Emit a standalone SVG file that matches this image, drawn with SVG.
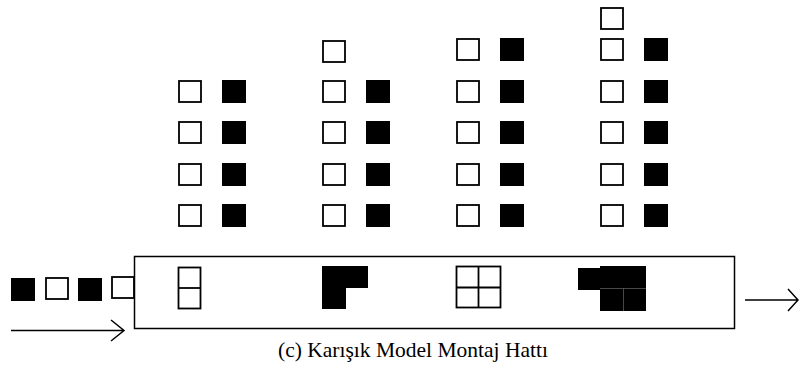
<svg xmlns="http://www.w3.org/2000/svg" width="799" height="375" viewBox="0 0 799 375">
  <style>
    .w { fill: #fff; stroke: #000; stroke-width: 1.8; }
    .b { fill: #000; stroke: none; }
    .ln { fill: none; stroke: #000; stroke-width: 1.5; }
    .seam { stroke: #777; stroke-width: 0.6; }
    .cap { font-family: "Liberation Serif", "Times New Roman", serif; font-size: 21.5px; fill: #000; }
  </style>
  <defs>
    <rect id="ws" class="w" width="22" height="21"/>
    <rect id="bs" class="b" width="24" height="23"/>
    <!-- a pair of parts: white + black -->
    <g id="pair">
      <use href="#ws" x="0" y="0"/>
      <use href="#bs" x="43" y="-1"/>
    </g>
  </defs>

  <!-- parts queued above station 1 -->
  <g id="stack1">
    <use href="#pair" x="179" y="81"/>
    <use href="#pair" x="179" y="122"/>
    <use href="#pair" x="179" y="164"/>
    <use href="#pair" x="179" y="205"/>
  </g>

  <!-- parts queued above station 2 -->
  <g id="stack2">
    <use href="#ws" x="323" y="41"/>
    <use href="#pair" x="323" y="81"/>
    <use href="#pair" x="323" y="122"/>
    <use href="#pair" x="323" y="164"/>
    <use href="#pair" x="323" y="205"/>
  </g>

  <!-- parts queued above station 3 -->
  <g id="stack3">
    <use href="#pair" x="457" y="39"/>
    <use href="#pair" x="457" y="81"/>
    <use href="#pair" x="457" y="122"/>
    <use href="#pair" x="457" y="164"/>
    <use href="#pair" x="457" y="205"/>
  </g>

  <!-- parts queued above station 4 -->
  <g id="stack4">
    <use href="#ws" x="601" y="8"/>
    <use href="#pair" x="601" y="39"/>
    <use href="#pair" x="601" y="81"/>
    <use href="#pair" x="601" y="122"/>
    <use href="#pair" x="601" y="164"/>
    <use href="#pair" x="601" y="205"/>
  </g>

  <!-- incoming mixed sequence -->
  <g id="queue">
    <rect class="b" x="11" y="278" width="24" height="23"/>
    <use href="#ws" x="46" y="278"/>
    <rect class="b" x="78" y="278" width="24" height="23"/>
    <use href="#ws" x="112" y="277"/>
  </g>

  <!-- assembly line body -->
  <g id="line">
    <rect class="ln" x="134.5" y="256.5" width="600" height="72"/>
  </g>

  <!-- station 1: two stacked cells -->
  <g id="station1">
    <rect class="w" x="178.5" y="267.5" width="22" height="41"/>
    <line class="w" x1="178.5" y1="288" x2="200.5" y2="288"/>
  </g>

  <!-- station 2: L-shaped block -->
  <g id="station2">
    <path class="b" d="M322 266 H368 V288 H346 V309 H322 Z"/>
  </g>

  <!-- station 3: 2x2 grid -->
  <g id="station3">
    <rect class="w" x="456.5" y="266.5" width="44" height="41"/>
    <line class="w" x1="478.5" y1="266.5" x2="478.5" y2="307.5"/>
    <line class="w" x1="456.5" y1="287.5" x2="500.5" y2="287.5"/>
  </g>

  <!-- station 4: stepped block -->
  <g id="station4">
    <rect class="b" x="578" y="268" width="24" height="22"/>
    <rect class="b" x="600" y="266" width="46" height="45"/>
    <line class="seam" x1="600" y1="288.5" x2="646" y2="288.5"/>
    <line class="seam" x1="623.5" y1="288.5" x2="623.5" y2="311"/>
  </g>

  <!-- flow arrows -->
  <g id="connectors">
    <path class="ln" d="M11 330.5 H124 M111 320 L124 330.5 L111 341"/>
    <path class="ln" d="M745 300 H798 M788 289 L798 300 L788 311"/>
  </g>

  <text class="cap" x="413" y="357" text-anchor="middle">(c) Karışık Model Montaj Hattı</text>
</svg>
